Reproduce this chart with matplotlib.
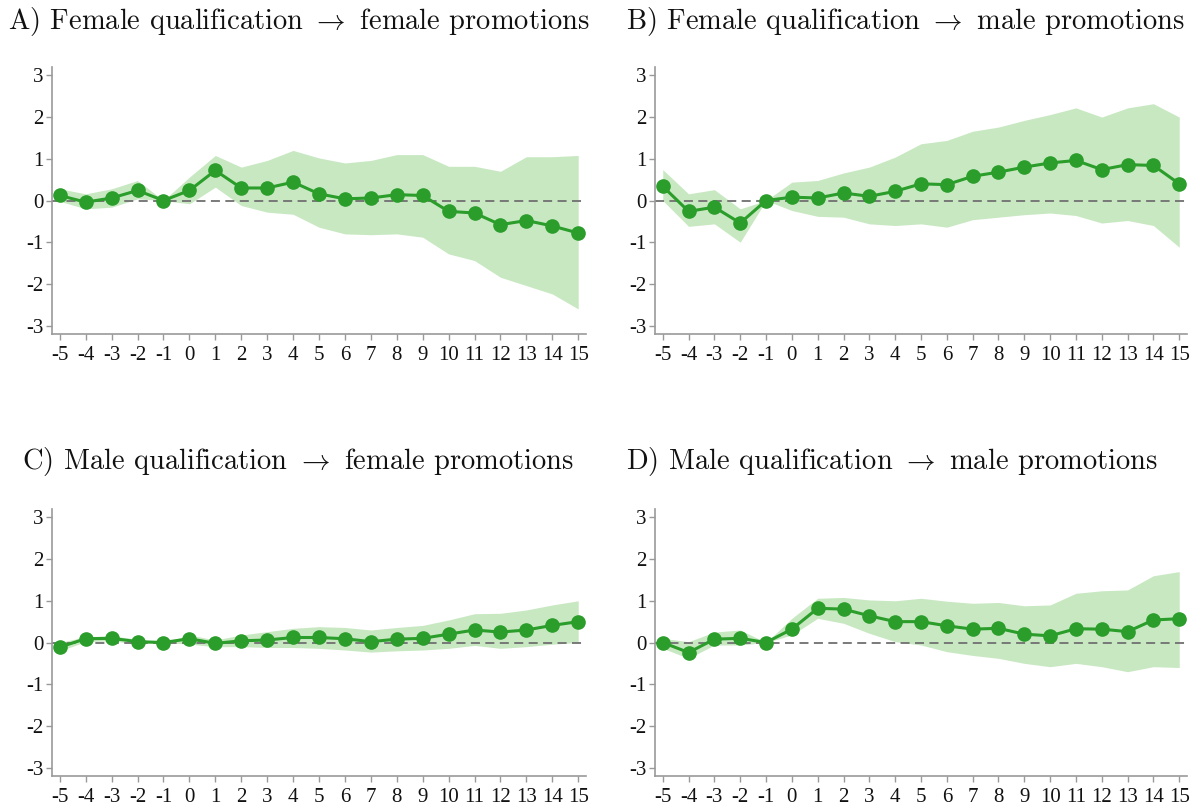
import numpy as np
import matplotlib
matplotlib.use("Agg")
import matplotlib.pyplot as plt

# Event time (years relative to event)
years = list(range(-5, 16))
xlabels = [str(y) for y in years]

# Panel A: female qualification -> female promotions
a_coef = [0.12, -0.04, 0.06, 0.24, 0.0, 0.24, 0.72, 0.30, 0.30, 0.44, 0.16,
          0.04, 0.06, 0.14, 0.12, -0.26, -0.30, -0.58, -0.48, -0.61, -0.78]
a_hi = [0.28, 0.16, 0.28, 0.48, 0.0, 0.56, 1.08, 0.80, 0.96, 1.20, 1.02,
        0.90, 0.96, 1.10, 1.10, 0.82, 0.82, 0.70, 1.05, 1.05, 1.08]
a_lo = [-0.02, -0.20, -0.16, 0.04, 0.0, -0.08, 0.32, -0.12, -0.28, -0.33, -0.64,
        -0.80, -0.82, -0.80, -0.88, -1.28, -1.44, -1.84, -2.04, -2.24, -2.60]

# Panel B: female qualification -> male promotions
b_coef = [0.34, -0.26, -0.16, -0.54, 0.0, 0.08, 0.06, 0.18, 0.10, 0.22, 0.40,
          0.38, 0.58, 0.68, 0.80, 0.90, 0.96, 0.74, 0.86, 0.84, 0.40]
b_hi = [0.74, 0.16, 0.26, -0.20, 0.0, 0.44, 0.48, 0.66, 0.80, 1.04, 1.36,
        1.44, 1.66, 1.76, 1.92, 2.06, 2.22, 2.00, 2.22, 2.32, 2.00]
b_lo = [0.0, -0.62, -0.56, -1.00, 0.0, -0.24, -0.38, -0.40, -0.56, -0.60, -0.56,
        -0.64, -0.46, -0.40, -0.34, -0.30, -0.36, -0.54, -0.48, -0.60, -1.12]

# Panel C: male qualification -> female promotions
c_coef = [-0.11, 0.09, 0.10, 0.02, 0.0, 0.09, -0.02, 0.04, 0.06, 0.12, 0.12,
          0.09, 0.02, 0.08, 0.10, 0.20, 0.30, 0.25, 0.30, 0.41, 0.50]
c_hi = [0.0, 0.14, 0.16, 0.08, 0.0, 0.18, 0.06, 0.18, 0.26, 0.34, 0.38,
        0.36, 0.30, 0.36, 0.41, 0.54, 0.69, 0.70, 0.78, 0.90, 1.00]
c_lo = [-0.20, 0.02, 0.04, -0.04, 0.0, -0.04, -0.10, -0.10, -0.12, -0.12, -0.14,
        -0.18, -0.23, -0.20, -0.18, -0.14, -0.07, -0.14, -0.10, -0.04, 0.0]

# Panel D: male qualification -> male promotions
d_coef = [0.0, -0.24, 0.08, 0.10, 0.0, 0.32, 0.82, 0.80, 0.64, 0.50, 0.50,
          0.40, 0.32, 0.34, 0.20, 0.16, 0.33, 0.32, 0.26, 0.54, 0.57]
d_hi = [0.10, 0.02, 0.25, 0.30, 0.0, 0.58, 1.06, 1.08, 1.02, 1.00, 1.06,
        0.99, 0.94, 0.96, 0.88, 0.90, 1.18, 1.24, 1.26, 1.60, 1.70]
d_lo = [-0.14, -0.38, -0.06, -0.06, 0.0, 0.18, 0.58, 0.46, 0.22, 0.02, -0.06,
        -0.22, -0.31, -0.38, -0.50, -0.58, -0.50, -0.58, -0.70, -0.58, -0.60]

titles = [r"A) Female qualification $\rightarrow$ female promotions",
          r"B) Female qualification $\rightarrow$ male promotions",
          r"C) Male qualification $\rightarrow$ female promotions",
          r"D) Male qualification $\rightarrow$ male promotions"]

panels = [(a_coef, a_lo, a_hi), (b_coef, b_lo, b_hi),
          (c_coef, c_lo, c_hi), (d_coef, d_lo, d_hi)]

plt.rcParams['mathtext.fontset'] = 'cm'

line_col = '#2a9d2a'
band_col = '#c8e8c2'
spine_col = '#999999'

W, H = 1193, 806
fig = plt.figure(figsize=(W / 100, H / 100), dpi=100)

# axes boxes in pixels: left, right, top, bottom
boxes = [(52, 586, 67, 334), (655, 1187, 67, 334),
         (52, 586, 509, 776), (655, 1187, 509, 776)]
title_pos = [(8, 22), (626, 22), (22, 462), (626, 462)]

for i, (box, (coef, lo, hi)) in enumerate(zip(boxes, panels)):
    l, r, t, b = box
    ax = fig.add_axes([l / W, (H - b) / H, (r - l) / W, (b - t) / H])
    ax.fill_between(years, lo, hi, color=band_col, linewidth=0, zorder=1)
    ax.axhline(0, color='#707070', linestyle=(0, (5, 3)), linewidth=1.3, zorder=2)
    ax.plot(years, coef, color=line_col, linewidth=2.2, marker='o',
            markersize=9.5, zorder=3)
    ax.set_xlim(-5.3, 15.3)
    ax.set_ylim(-3.2, 3.2)
    ax.set_xticks(years)
    ax.set_xticklabels(xlabels)
    ax.set_yticks([-3, -2, -1, 0, 1, 2, 3])
    ax.set_yticklabels(['-3', '-2', '-1', '0', '1', '2', '3'])
    for side in ['top', 'right']:
        ax.spines[side].set_visible(False)
    for side in ['left', 'bottom']:
        ax.spines[side].set_color(spine_col)
        ax.spines[side].set_linewidth(1.2)
    ax.tick_params(axis='both', colors=spine_col, length=4, width=1.0)
    ax.tick_params(axis='x', pad=5)
    ax.tick_params(axis='y', pad=2)
    for lab in ax.get_xticklabels() + ax.get_yticklabels():
        lab.set_fontfamily('Liberation Serif')
        lab.set_fontsize(15)
        lab.set_color('#111111')

    tx, ty = title_pos[i]
    fig.text(tx / W, 1 - ty / H, titles[i], family='cmr10', fontsize=20.5,
             ha='left', va='center', color='#111111')

fig.savefig('out.png', dpi=100)
